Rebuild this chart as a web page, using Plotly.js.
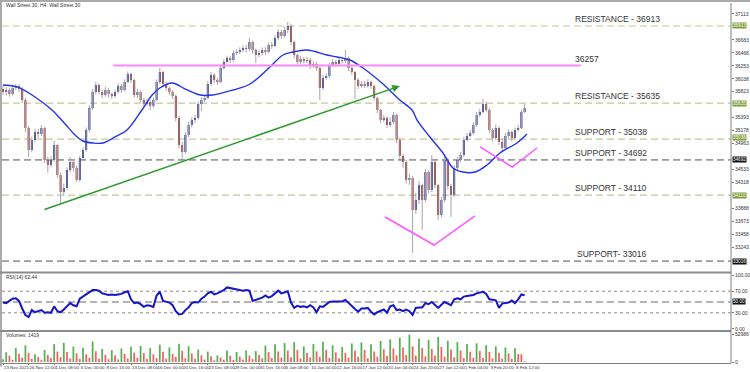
<!DOCTYPE html>
<html><head><meta charset="utf-8">
<script src="https://cdn.plot.ly/plotly-3.0.1.min.js"></script>
<style>html,body{margin:0;padding:0;background:#fff}#chart{width:750px;height:372px}</style>
</head><body><div id="chart"></div>
<script>
// ---- DATA ----
const tickIdx = [0,8,16,24,32,40,48,56,64,72,80,88,96,104,112,120,128,136,144,152,160];
const tickLabels = ["23 Nov 2021","26 Nov 12:00","1 Dec 08:00","6 Dec 00:00","8 Dec 16:00","13 Dec 08:00","16 Dec 00:00","20 Dec 16:00","23 Dec 08:00","29 Dec 00:00","31 Dec 16:00","5 Jan 08:00","10 Jan 00:00","12 Jan 16:00","17 Jan 12:00","20 Jan 04:00","24 Jan 20:00","27 Jan 12:00","1 Feb 04:00","3 Feb 20:00","8 Feb 12:00"];
const priceTicks = [33243,33458,33673,33888,34318,34533,34963,35178,35393,35823,36038,36253,36468,36683,37113];
const rsiTicks = [0,30,70,100];
const rsiTickText = ["0.00","30.00","70.00","100.00"];
const volTicks = [0,52986];

const openP = [35870,35819,35852,35785,35885,35918,35868,35686,35222,34857,
35023,35155,35122,35222,34691,34608,34691,34940,34442,34161,
34227,34525,34658,34559,34360,34724,34857,35189,35553,35819,
35935,35819,35769,35852,35785,35752,35819,35918,35852,35984,
36117,36018,35769,35819,35686,35620,35653,35587,35686,35984,
36150,35951,35885,35819,35752,35388,34940,34824,35106,35271,
35354,35388,35620,35686,35719,35951,36100,36018,35984,36217,
36316,36382,36349,36465,36482,36515,36548,36532,36648,36515,
36432,36465,36515,36482,36598,36581,36714,36813,36747,36847,
36913,36648,36432,36316,36366,36333,36349,36250,36283,36217,
35885,36050,36084,36266,36316,36283,36349,36333,36382,36217,
36150,36018,35918,35951,35918,35984,35918,35719,35520,35354,
35388,35271,35321,35437,35023,34758,34658,34360,34393,33862,
34028,34277,34028,34492,34194,34658,34277,33779,34028,34691,
34260,34111,34559,34691,34774,35023,35089,35139,35271,35437,
35487,35620,35520,35189,35056,35222,34990,34890,35089,35155,
35056,35189,35222,35487];
const highP = [35935,35900,35890,35930,35950,35945,35900,35720,35260,35080,
35210,35200,35272,35240,34740,34750,35010,34960,34480,34300,
34570,34741,34700,34600,34760,34900,35230,35600,35870,35984,
35960,35850,35900,35880,35810,35860,35960,35950,36030,36160,
36140,36040,35870,35840,35720,35700,35680,35730,36030,36217,
36170,35990,35910,35850,35780,35420,34990,35150,35320,35400,
35440,35660,35730,35770,36000,36150,36130,36050,36260,36360,
36420,36420,36510,36530,36560,36590,36600,36714,36670,36540,
36520,36560,36560,36640,36650,36760,36860,36850,36900,36980,
36950,36670,36460,36420,36400,36400,36380,36330,36320,36240,
36100,36130,36300,36360,36350,36390,36400,36515,36410,36250,
36170,36050,36000,36000,36030,36010,35940,35740,35540,35440,
35420,35400,35487,35460,35060,34800,34690,34460,34420,34150,
34340,34300,34540,34520,34774,34690,34300,34080,34774,34720,
34300,34600,34740,34830,35070,35140,35190,35320,35487,35540,
35703,35660,35550,35220,35280,35250,35040,35140,35200,35180,
35230,35270,35520,35620];
const lowP = [35770,35760,35740,35760,35850,35820,35640,35150,34741,34820,
34990,35060,35090,34640,34480,34570,34660,34400,33978,34110,
34190,34490,34500,34327,34330,34690,34830,35160,35520,35780,
35780,35720,35740,35730,35700,35720,35790,35800,35830,35960,
35970,35730,35720,35650,35580,35590,35520,35560,35660,35950,
35900,35840,35770,35700,35330,34880,34691,34790,35070,35230,
35300,35360,35500,35650,35700,35920,35960,35935,35960,36190,
36290,36300,36320,36430,36450,36480,36480,36500,36450,36300,
36400,36420,36430,36460,36530,36560,36680,36700,36720,36800,
36600,36380,36270,36280,36290,36300,36200,36220,36170,35686,
35850,36020,36050,36240,36240,36250,36290,36300,36170,36100,
35700,35870,35890,35880,35890,35870,35680,35470,35300,35320,
35222,35240,35290,34970,34700,34560,34300,34280,33149,33800,
33960,33531,33990,34140,34160,34220,33696,33740,33990,34200,
33746,34080,34520,34650,34740,35000,35070,35110,35240,35400,
35460,35480,35140,35000,35020,34940,34830,34860,35050,35000,
35030,35160,35200,35470];
const closeP = [35819,35852,35785,35885,35918,35868,35686,35222,34857,35023,
35155,35122,35222,34691,34608,34691,34940,34442,34161,34227,
34525,34658,34559,34360,34724,34857,35189,35553,35819,35935,
35819,35769,35852,35785,35752,35819,35918,35852,35984,36117,
36018,35769,35819,35686,35620,35653,35587,35686,35984,36150,
35951,35885,35819,35752,35388,34940,34824,35106,35271,35354,
35388,35620,35686,35719,35951,36100,36018,35984,36217,36316,
36382,36349,36465,36482,36515,36548,36532,36648,36515,36432,
36465,36515,36482,36598,36581,36714,36813,36747,36847,36913,
36648,36432,36316,36366,36333,36349,36250,36283,36217,35885,
36050,36084,36266,36316,36283,36349,36333,36382,36217,36150,
36018,35918,35951,35918,35984,35918,35719,35520,35354,35388,
35271,35321,35437,35023,34758,34658,34360,34393,33862,34028,
34277,34028,34492,34194,34658,34277,33779,34028,34691,34260,
34111,34559,34691,34774,35023,35089,35139,35271,35437,35487,
35620,35520,35189,35056,35222,34990,34890,35089,35155,35056,
35189,35222,35487,35553];
const rsiVals = [49,48,52,56,57,52,38,26,22,35,
31,33,35,30,31,30,42,33,31,36,
42,48,44,42,56,60,64,69,72,72,
71,66,64,63,64,63,64,65,68,70,
55,48,49,46,41,44,43,41,62,69,
52,50,49,44,33,27,28,35,40,48,
50,49,56,60,66,69,64,66,69,72,
77,76,74,73,72,71,72,71,52,54,
55,58,62,58,61,66,71,66,68,70,
49,39,43,41,42,40,44,40,31,42,
41,45,50,51,51,50,51,54,48,43,
37,32,38,38,39,32,27,31,33,36,
30,42,44,35,36,33,36,33,26,39,
40,40,48,46,50,45,39,45,50,47,
44,55,57,55,60,61,62,63,66,67,
69,65,55,54,53,39,47,48,49,53,
48,55,64,62.44];
const volumes = [5200,18400,12100,4100,26300,15800,8200,31500,17400,6100,
14800,9300,3900,22600,13200,7400,33800,19600,9300,36200,
18800,6800,29400,16300,5700,27100,14500,7900,38800,20400,
6300,24800,13900,5400,22300,12600,4800,25900,15100,6600,
28700,17800,8100,30400,16900,5900,26200,14700,7200,32900,
19300,6400,27800,15600,9800,34600,21200,7300,29900,16400,
5500,23700,12800,4600,19800,10900,3200,12400,8600,4300,
21600,11800,3800,18900,10400,4900,22200,12300,5600,20700,
13500,6900,31200,18700,7800,33400,19900,8400,35800,21600,
9100,37900,22800,6700,29300,17100,8800,34100,20200,9700,
38400,23100,7600,31600,18400,6900,28500,16900,8500,35200,
21300,9900,37300,22600,7100,33600,19800,10200,39600,24100,
11300,42800,25700,12600,45900,27300,13400,51800,29600,11900,
44700,26800,10700,42100,24900,12100,47600,28400,9800,40300,
23600,8900,37600,21800,7700,33900,19500,8300,35400,20700,
7400,31800,18900,6800,29600,17300,6200,27400,16100,5800,
25900,15200,14800,1419];
// moving average, read at points (bar index, price)
const maIdx = [0,4.4,10,15.3,19.4,22.5,25,28.1,31.25,35,38.75,43.4,46.6,49,52.8,57.5,61.6,65.6,71.9,77.2,83.4,87.5,90.6,95,101.25,104.4,108.4,112.5,118.75,124,127.8,129.4,133.4,137.5,140.6,143.75,147.5,151.25,155.3,160.6,163.75];
const maVal = [35935,35902,35736,35520,35288,35106,35006,34973,34973,35073,35189,35520,35769,35885,35968,35852,35769,35769,35852,35951,36233,36432,36482,36515,36432,36399,36349,36217,35951,35686,35520,35354,35073,34807,34559,34492,34492,34608,34807,34973,35122];
// levels
const levelVals = [36913,35635,35038,34692,34110,33016];
const levelText = ["RESISTANCE - 36913","RESISTANCE - 35635","SUPPORT - 35038","SUPPORT - 34692","SUPPORT - 34110","SUPPORT- 33016"];
const levelBox = ["36913","35635","35038","34692","34110","33016"];
const levelKind = ["olive","olive","olive","gray","olive","gray"];
const pinkLevel = 36257, pinkText = "36257", pinkFrom = 34.4, pinkTo = 180.6;
const trendFrom = [12.5,33862], trendTo = [124,35918];
const vBigX = [119.4,134.7,147.5], vBigY = [33746,33282,33763];
const vSmallX = [149.1,159.1,166.9], vSmallY = [34907,34575,34890];
const labelIdx = 178.1;

// ---- BUILD ----
const idx = closeP.map((_, i) => i);
const wx = [], wy = [];
idx.forEach(i => { wx.push(i, i, null); wy.push(lowP[i], highP[i], null); });
const bodyH = closeP.map((c, i) => c - openP[i]);
const bodyCol = closeP.map((c, i) => c >= openP[i] ? '#10108a' : '#8a1414');
const volCol = volumes.map((v, i) => (i === 0 || v > volumes[i-1]) ? '#55b055' : '#f26161');

const FONT = '"Liberation Sans", Arial, sans-serif';
const NARROW = '"Liberation Sans Narrow", "Liberation Sans", Arial, sans-serif';
const traces = [
  {type:'scatter', mode:'lines', x:wx, y:wy, line:{color:'#a6a6a6', width:1}, hoverinfo:'skip', xaxis:'x', yaxis:'y'},
  {type:'bar', x:idx, base:openP, y:bodyH, width:0.6, marker:{color:bodyCol, line:{width:0}}, xaxis:'x', yaxis:'y'},
  {type:'scatter', mode:'lines', x:maIdx, y:maVal, line:{color:'#2233ee', width:1.4, shape:'spline', smoothing:1}, xaxis:'x', yaxis:'y'},
  {type:'scatter', mode:'lines', x:vBigX, y:vBigY, line:{color:'#ff55ff', width:1.5}, xaxis:'x', yaxis:'y'},
  {type:'scatter', mode:'lines', x:vSmallX, y:vSmallY, line:{color:'#ff55ff', width:1.5}, xaxis:'x', yaxis:'y'},
  {type:'scatter', mode:'lines', x:idx, y:rsiVals, line:{color:'#1616c8', width:2}, xaxis:'x2', yaxis:'y2'},
  {type:'bar', x:idx, y:volumes, width:0.55, marker:{color:volCol, line:{width:0}}, xaxis:'x3', yaxis:'y3'}
];

const shapes = [];
const annotations = [];
levelVals.forEach((v, k) => {
  const olive = levelKind[k] === 'olive';
  shapes.push({type:'line', xref:'paper', yref:'y', x0:0, x1:1, y0:v, y1:v, layer:'below',
    line:{color: olive ? '#c4c89a' : '#9c9c9c', width: olive ? 1.2 : 1.8, dash:'7px,4px'}});
  annotations.push({xref:'x', yref:'y', x:labelIdx + (k===5?0.6:0), y:v, text:levelText[k], showarrow:false,
    xanchor:'left', yanchor:'bottom', yshift:0, font:{family:FONT, size:8.5, color:'#333'}});
  annotations.push({xref:'paper', yref:'y', x:1, y:v, text:levelBox[k], showarrow:false, xanchor:'left', yanchor:'middle',
    xshift:1, yshift:(k===2?2:0), bgcolor: olive ? '#7f9c3c' : '#111', borderpad:0, font:{family:FONT, size:4.6, color:'#fff'}});
});
shapes.push({type:'line', xref:'x', yref:'y', x0:pinkFrom, x1:pinkTo, y0:pinkLevel, y1:pinkLevel, line:{color:'#ff88ff', width:2}});
annotations.push({xref:'x', yref:'y', x:labelIdx, y:pinkLevel, text:pinkText, showarrow:false, xanchor:'left', yanchor:'bottom',
  font:{family:FONT, size:8.5, color:'#333'}});
annotations.push({xref:'x', yref:'y', axref:'x', ayref:'y', x:trendTo[0], y:trendTo[1], ax:trendFrom[0], ay:trendFrom[1],
  showarrow:true, arrowhead:2, arrowsize:1, arrowwidth:1.5, arrowcolor:'#2e9a2e', text:''});
// RSI levels
[[70,'dot',1,'#8a8a8a'],[30,'dot',1,'#8a8a8a'],[50,'7px,4px',1.5,'#9c9c9c']].forEach(l => {
  shapes.push({type:'line', xref:'paper', yref:'y2', x0:0, x1:1, y0:l[0], y1:l[0], layer:'below', line:{color:l[3], width:l[2], dash:l[1]}});
});
annotations.push({xref:'paper', yref:'y2', x:1, y:50, text:'50.00', showarrow:false, xanchor:'left', xshift:1, bgcolor:'#111', borderpad:0,
  font:{family:FONT, size:4.6, color:'#fff'}});
// frame / separators
shapes.push({type:'line', xref:'paper', yref:'paper', x0:-0.003, x1:1.03, y0:1.0056, y1:1.0056, line:{color:'#a9a9a9', width:2}});
shapes.push({type:'line', xref:'paper', yref:'paper', x0:-0.0014, x1:-0.0014, y0:-0.01, y1:1.01, line:{color:'#a9a9a9', width:2}});
shapes.push({type:'line', xref:'paper', yref:'paper', x0:-0.003, x1:1, y0:0.2514, y1:0.2514, line:{color:'#8a8a8a', width:2}});
shapes.push({type:'line', xref:'paper', yref:'paper', x0:-0.003, x1:1, y0:0.0889, y1:0.0889, line:{color:'#8a8a8a', width:2}});
shapes.push({type:'line', xref:'paper', yref:'paper', x0:1, x1:1, y0:0, y1:1, line:{color:'#808080', width:1}});
// panel captions
annotations.push({xref:'paper', yref:'paper', x:0.003, y:0.9944, text:'Wall Street 30, H4: Wall Street 30', showarrow:false,
  xanchor:'left', yanchor:'middle', font:{family:FONT, size:5, color:'#333'}});
annotations.push({xref:'paper', yref:'paper', x:0.003, y:0.2389, text:'RSI(14) 62.44', showarrow:false,
  xanchor:'left', yanchor:'middle', font:{family:FONT, size:5, color:'#333'}});
annotations.push({xref:'paper', yref:'paper', x:0.003, y:0.0778, text:'Volumes: 1419', showarrow:false,
  xanchor:'left', yanchor:'middle', font:{family:FONT, size:5, color:'#333'}});

const xBase = {showgrid:false, zeroline:false, showline:false, ticks:'', showticklabels:false};
const yBase = {side:'right', showgrid:false, zeroline:false, showline:false, ticks:'outside', ticklen:2, tickcolor:'#777',
  tickmode:'array', tickfont:{family:FONT, size:5, color:'#333'}};
const layout = {
  width:750, height:372, margin:{l:2, r:19, t:3, b:9},
  paper_bgcolor:'#fff', plot_bgcolor:'#fff', showlegend:false, barmode:'overlay',
  font:{family:FONT, size:5, color:'#333'},
  xaxis:Object.assign({}, xBase, {domain:[0,1], anchor:'y', range:[-0.3125, 227.5]}),
  xaxis2:Object.assign({}, xBase, {matches:'x', anchor:'y2'}),
  xaxis3:Object.assign({}, xBase, {matches:'x', anchor:'y3', showticklabels:true, tickmode:'array', tickvals:tickIdx, ticktext:tickLabels,
    ticks:'outside', ticklen:1, tickcolor:'#777', tickangle:0, ticklabelposition:'outside right', showline:true, linecolor:'#808080',
    automargin:false, tickfont:{family:NARROW, size:4.4, color:'#333'}}),
  yaxis:Object.assign({}, yBase, {domain:[0.2556,1], anchor:'x', range:[32851,37294], tickvals:priceTicks, ticktext:priceTicks.map(String)}),
  yaxis2:Object.assign({}, yBase, {domain:[0.0917,0.2472], anchor:'x2', range:[-1.85,101.85], tickvals:rsiTicks, ticktext:rsiTickText}),
  yaxis3:Object.assign({}, yBase, {domain:[0,0.0861], anchor:'x3', range:[-1892,56770], tickvals:volTicks, ticktext:volTicks.map(String)}),
  shapes:shapes, annotations:annotations
};
Plotly.newPlot('chart', traces, layout, {staticPlot:true, displayModeBar:false});
</script></body></html>
